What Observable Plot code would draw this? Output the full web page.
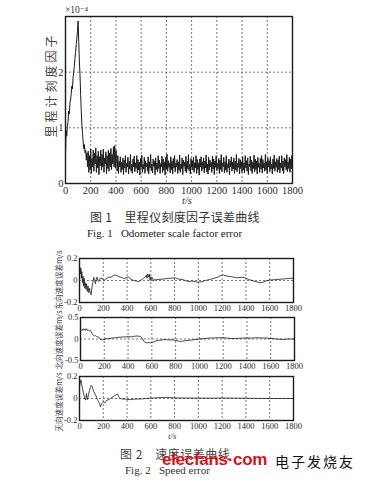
<!DOCTYPE html>
<html><head><meta charset="utf-8">
<script src="https://cdn.jsdelivr.net/npm/d3@7"></script>
<script src="https://cdn.jsdelivr.net/npm/@observablehq/plot@0.6"></script>
<style>
html,body{margin:0;padding:0;background:#fff;}
#root{position:relative;width:367px;height:483px;overflow:hidden;background:#fff;}
.abs{position:absolute;white-space:pre;line-height:1;}
.cjk{font-family:"Noto Sans CJK SC",sans-serif;}
.serif{font-family:"Liberation Serif","DejaVu Serif",serif;}
.rot{transform:translate(-50%,-50%) rotate(-90deg);}
</style></head><body><div id="root"></div>
<script>
// ---------- shared ticks ----------
const xTicks = [0, 200, 400, 600, 800, 1000, 1200, 1400, 1600, 1800];
const xGrid = [200, 400, 600, 800, 1000, 1200, 1400, 1600];

// ---------- Fig. 1: odometer scale factor error (x1e-4), sampled every 5 s ----------
const fig1Step = 5;
const fig1Values = [
  0.5, 0.95, 0.85, 1.05, 1.1, 1.3, 1.25, 1.45, 1.5, 1.6,
  1.75, 1.7, 1.9, 2.0, 2.1, 2.25, 2.35, 2.5, 2.6, 2.75,
  2.92, 2.55, 2.2, 1.95, 1.6, 1.3, 1.05, 0.9, 0.75, 0.62,
  0.7, 0.55, 0.6, 0.42, 0.55,
  0.3, 0.58, 0.2, 0.5, 0.25, 0.62, 0.18, 0.45, 0.3, 0.6,
  0.22, 0.55, 0.35, 0.64, 0.2, 0.5, 0.28, 0.58, 0.16, 0.48,
  0.32, 0.6, 0.24, 0.52, 0.3, 0.62, 0.2, 0.46, 0.35, 0.57,
  0.18, 0.5, 0.27, 0.6, 0.22, 0.55, 0.3, 0.63, 0.25, 0.52,
  0.35, 0.66, 0.3, 0.68, 0.28, 0.6,
  0.45, 0.22, 0.5, 0.18, 0.4, 0.3, 0.48, 0.2, 0.38, 0.25,
  0.46, 0.16, 0.42, 0.28, 0.5, 0.2, 0.36, 0.3, 0.47, 0.17,
  0.4, 0.26, 0.52, 0.22, 0.35, 0.18, 0.44, 0.3, 0.49, 0.21,
  0.37, 0.27, 0.5, 0.19, 0.43, 0.24, 0.38, 0.15, 0.45, 0.29,
  0.51, 0.2, 0.34, 0.26, 0.47, 0.18, 0.41, 0.3, 0.36, 0.22,
  0.48, 0.17, 0.39, 0.28, 0.52, 0.23, 0.35, 0.19, 0.44, 0.31,
  0.4, 0.16, 0.46, 0.25, 0.37, 0.21, 0.5, 0.27, 0.42, 0.18,
  0.36, 0.3, 0.49, 0.2, 0.44, 0.24, 0.38, 0.15, 0.47, 0.26,
  0.53, 0.22, 0.41, 0.29, 0.36, 0.19, 0.48, 0.25, 0.4, 0.17,
  0.45, 0.28, 0.5, 0.21, 0.37, 0.3, 0.43, 0.18, 0.39, 0.24,
  0.51, 0.2, 0.35, 0.27, 0.46, 0.16, 0.42, 0.31, 0.38, 0.22,
  0.49, 0.19, 0.4, 0.26, 0.52, 0.23, 0.34, 0.17, 0.45, 0.29,
  0.41, 0.24, 0.47, 0.2, 0.37, 0.28, 0.5, 0.18, 0.43, 0.25,
  0.36, 0.15, 0.44, 0.3, 0.48, 0.22, 0.39, 0.26, 0.46, 0.19,
  0.4, 0.28, 0.51, 0.21, 0.35, 0.17, 0.47, 0.24, 0.42, 0.3,
  0.38, 0.2, 0.49, 0.26, 0.44, 0.16, 0.4, 0.29, 0.5, 0.23,
  0.36, 0.27, 0.45, 0.18, 0.42, 0.25, 0.52, 0.21, 0.37, 0.3,
  0.47, 0.19, 0.39, 0.24, 0.5, 0.2, 0.35, 0.28, 0.44, 0.16,
  0.41, 0.3, 0.48, 0.22, 0.38, 0.26, 0.46, 0.18, 0.4, 0.25,
  0.52, 0.21, 0.36, 0.29, 0.45, 0.17, 0.43, 0.27, 0.39, 0.2,
  0.48, 0.24, 0.37, 0.19, 0.5, 0.28, 0.41, 0.22, 0.46, 0.16,
  0.35, 0.3, 0.49, 0.23, 0.42, 0.18, 0.38, 0.27, 0.51, 0.21,
  0.44, 0.25, 0.4, 0.17, 0.47, 0.29, 0.36, 0.2, 0.45, 0.26,
  0.5, 0.19, 0.43, 0.28, 0.37, 0.22, 0.52, 0.24, 0.39, 0.18,
  0.46, 0.3, 0.41, 0.21, 0.48, 0.26, 0.35, 0.17, 0.44, 0.27,
  0.51, 0.22, 0.38, 0.29, 0.45, 0.2, 0.42, 0.25, 0.49, 0.19,
  0.37, 0.28, 0.5, 0.23, 0.4, 0.18, 0.46, 0.3, 0.43, 0.24,
  0.52, 0.21, 0.39, 0.27, 0.47, 0.2, 0.44, 0.26, 0.5, 0.35
];
const fig1YTicks = [0, 1, 2];

// ---------- Fig. 2: speed errors (m/s) ----------
const eastT = [0,4,8,12,16,20,25,30,35,40,45,50,55,60,66,72,78,85,92,98,105,112,120,127,134,141,148,155,162,175,190,205,218,232,246,265,285,302,316,330,350,370,386,400,414,435,456,478,498,512,526,540,554,562,568,575,582,588,594,600,606,614,622,630,638,660,694,720,750,780,806,835,862,890,918,945,974,1000,1030,1060,1100,1131,1160,1190,1210,1240,1270,1300,1330,1360,1390,1420,1450,1480,1520,1545,1577,1610,1650,1690,1730,1760,1800];
const eastV = [0.1,0.12,0.06,0.11,0.02,0.08,-0.02,0.04,-0.05,0.02,-0.07,-0.02,-0.08,-0.03,-0.1,-0.05,-0.11,-0.07,-0.12,-0.13,-0.06,-0.02,0.03,0.0,-0.03,0.01,0.03,0.0,-0.01,0.02,0.02,0.0,0.01,0.02,0.03,0.03,0.045,0.05,0.045,0.035,0.03,0.02,0.02,0.03,0.03,0.01,0.0,-0.005,-0.01,0.0,0.01,0.02,0.03,0.05,0.02,0.06,0.03,0.055,0.0,0.035,0.01,0.025,-0.005,0.01,0.005,0.01,0.012,0.015,0.02,0.022,0.025,0.012,0.01,0.0,-0.01,-0.005,-0.01,-0.015,-0.01,0.0,0.01,0.02,0.03,0.045,0.05,0.04,0.035,0.03,0.025,0.03,0.025,0.01,0.0,-0.01,-0.02,-0.015,0.0,0.005,0.008,0.012,0.015,0.02,0.02];
const eastTicks = [-0.2, 0, 0.2];

const northT = [0,6,12,18,24,30,36,42,48,56,64,74,84,90,98,106,118,126,134,144,155,168,185,210,235,266,295,322,350,378,405,434,455,476,490,504,518,532,546,560,574,588,602,616,636,658,686,714,742,770,798,826,850,882,910,940,970,1000,1040,1080,1120,1160,1200,1240,1280,1320,1360,1400,1440,1480,1520,1560,1600,1650,1700,1750,1800];
const northV = [0.18,0.2,0.22,0.2,0.24,0.21,0.23,0.2,0.24,0.2,0.22,0.19,0.2,0.16,0.12,0.1,0.07,0.08,0.06,0.05,0.04,-0.01,-0.02,0.0,0.01,0.02,0.03,0.04,0.045,0.05,0.055,0.05,0.065,0.07,0.065,0.06,0.02,-0.05,-0.08,-0.09,-0.08,-0.09,-0.08,-0.07,-0.04,-0.03,-0.02,-0.015,-0.02,-0.02,-0.03,-0.05,-0.055,-0.04,-0.03,-0.02,-0.01,0.0,0.01,0.02,0.025,0.03,0.03,0.02,0.01,0.015,0.02,0.025,0.02,0.03,0.025,0.02,0.015,0.0,-0.01,0.0,0.0];
const northTicks = [-0.5, 0, 0.5];

const upT = [0,4,8,12,17,22,28,35,42,50,55,59,63,67,75,84,91,98,106,113,120,127,134,141,148,158,168,176,183,190,197,204,211,218,225,232,246,260,274,288,302,316,323,330,344,365,386,420,470,520,554,600,638,680,722,760,806,900,1000,1100,1200,1300,1400,1500,1600,1700,1800];
const upV = [0.1,0.13,0.15,0.17,0.14,0.11,0.075,0.04,0.015,-0.015,0.01,0.045,0.0,-0.01,0.03,0.075,0.1,0.12,0.11,0.085,0.06,0.05,0.03,0.02,-0.005,-0.025,-0.045,-0.075,-0.05,-0.045,-0.035,-0.03,-0.04,-0.035,-0.02,-0.015,-0.01,0.0,0.01,0.02,0.03,0.04,0.035,0.015,0.0,-0.005,-0.005,-0.01,-0.005,-0.004,0.0,0.003,0.005,0.008,0.01,0.008,0.005,0.004,0.003,0.003,0.004,0.003,0.002,0.001,0.0,0.0,0.0];
const upTicks = [-0.2, 0, 0.2];

// ---------- drawing helpers ----------
const root = document.getElementById("root");
const fmt = d => String(d);

function panel(o) {
  const data = o.values.map((v, i) => ({t: o.times[i], v}));
  const svg = Plot.plot({
    width: 367, height: o.height,
    marginTop: o.mt, marginBottom: o.mb, marginLeft: o.ml, marginRight: o.mr,
    style: {background: "transparent", overflow: "visible",
            fontFamily: '"Liberation Serif","DejaVu Serif",serif',
            fontSize: o.fs + "px", color: "#2a2a2a"},
    x: {domain: [0, 1800], ticks: xTicks, tickFormat: fmt, tickSize: 0, tickPadding: o.xpad, label: null},
    y: {domain: o.yDomain, ticks: o.yTicks, tickFormat: fmt, tickSize: 0, tickPadding: 2, label: null},
    marks: [
      Plot.ruleX(xGrid, {stroke: "#555", strokeWidth: 0.8, strokeDasharray: "2,2"}),
      Plot.ruleY(o.yGrid, {stroke: "#555", strokeWidth: 0.8, strokeDasharray: "2,2"}),
      Plot.line(data, {x: "t", y: "v", stroke: "#1a1a1a", strokeWidth: o.lw}),
      Plot.frame({stroke: "#1a1a1a", strokeWidth: 1.4})
    ]
  });
  svg.style.position = "absolute";
  svg.style.left = "0px";
  svg.style.top = o.top + "px";
  root.appendChild(svg);
}

function label(text, cls, css) {
  const d = document.createElement("div");
  d.className = "abs " + cls;
  d.textContent = text;
  Object.assign(d.style, css);
  root.appendChild(d);
  return d;
}

// ---------- Figure 1 ----------
panel({values: fig1Values, times: fig1Values.map((_, i) => i * fig1Step),
  top: 0, height: 215, mt: 16, mb: 32, ml: 65, mr: 75, fs: 10.5, xpad: 3, lw: 1.0,
  yDomain: [0, 3], yTicks: fig1YTicks, yGrid: [1, 2]});

label("×10⁻⁴", "serif", {left: "65px", top: "6px", fontSize: "9.5px", color: "#333"});
label("里程计刻度因子", "cjk rot", {left: "51px", top: "85px", fontSize: "12px", letterSpacing: "3px", color: "#444"});
label("t/s", "serif", {left: "182px", top: "196px", fontSize: "10.5px", fontStyle: "italic", color: "#333"});
label("图 1　里程仪刻度因子误差曲线", "cjk", {left: "90px", top: "211px", fontSize: "12px", letterSpacing: "0.3px", color: "#333"});
label("Fig. 1   Odometer scale factor error", "serif", {left: "87px", top: "228px", fontSize: "11px", color: "#222"});

// ---------- Figure 2 ----------
panel({values: eastV, times: eastT, top: 250, height: 62, mt: 8, mb: 10, ml: 79, mr: 74,
  fs: 8.5, xpad: 2, lw: 0.8, yDomain: [-0.2, 0.2], yTicks: eastTicks, yGrid: [0]});
panel({values: northV, times: northT, top: 312, height: 58, mt: 5, mb: 10, ml: 80, mr: 73,
  fs: 8.5, xpad: 2, lw: 0.8, yDomain: [-0.5, 0.5], yTicks: northTicks, yGrid: [0]});
panel({values: upV, times: upT, top: 370, height: 62, mt: 6, mb: 12, ml: 79, mr: 74,
  fs: 8.5, xpad: 2, lw: 0.8, yDomain: [-0.2, 0.2], yTicks: upTicks, yGrid: [0]});

label("东向速度误差m/s", "cjk rot", {left: "59px", top: "280px", fontSize: "7.6px", color: "#444"});
label("北向速度误差m/s", "cjk rot", {left: "59px", top: "340px", fontSize: "7.6px", color: "#444"});
label("天向速度误差m/s", "cjk rot", {left: "59px", top: "402px", fontSize: "7.6px", color: "#444"});
label("t/s", "serif", {left: "168px", top: "432px", fontSize: "9px", fontStyle: "italic", color: "#444"});

label("图 2　速度误差曲线", "cjk", {left: "120px", top: "448px", fontSize: "12px", letterSpacing: "0.5px", color: "#444"});
label("Fig. 2   Speed error", "serif", {left: "125px", top: "465px", fontSize: "11px", color: "#333"});

// watermark
label("elecfans·com", "", {left: "162px", top: "451px", fontSize: "17px", fontWeight: "bold",
  fontFamily: '"Liberation Sans",Arial,sans-serif', color: "#d7141c", letterSpacing: "-0.3px"});
label("电子发烧友", "cjk", {left: "275px", top: "454px", fontSize: "14px", letterSpacing: "2px", color: "#111"});
</script>
</body></html>
